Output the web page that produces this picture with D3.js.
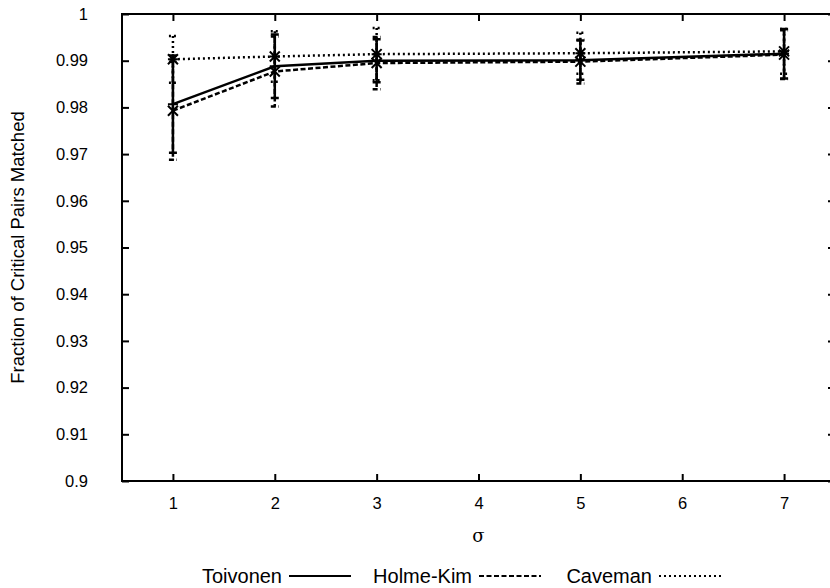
<!DOCTYPE html>
<html>
<head>
<meta charset="utf-8">
<script src="https://cdn.jsdelivr.net/npm/d3@7"></script>
<style>
  body { margin: 0; background: #fff; }
  svg { display: block; font-family: "Liberation Sans", Arial, sans-serif; }
</style>
</head>
<body>
<div id="chart"></div>
<script>
// chart values
const sigma = [1, 2, 3, 5, 7];
const xTicks = [1, 2, 3, 4, 5, 6, 7];
const yTicks = [0.9, 0.91, 0.92, 0.93, 0.94, 0.95, 0.96, 0.97, 0.98, 0.99, 1];
const seriesNames = ["Toivonen", "Holme-Kim", "Caveman"];
const toivonen = [0.9807, 0.9888, 0.9900, 0.9901, 0.9915];
const toivonenErr = [0.0104, 0.0068, 0.0046, 0.0042, 0.0053];
const holmeKim = [0.9793, 0.9877, 0.9895, 0.9898, 0.9913];
const holmeKimErr = [0.0105, 0.0075, 0.0056, 0.0047, 0.0052];
const caveman = [0.9903, 0.9909, 0.9914, 0.9916, 0.9920];
const cavemanErr = [0.0050, 0.0054, 0.0056, 0.0044, 0.0048];

const width = 830;
const height = 588;
const margin = { left: 122, right: -5, top: 14, bottom: 107 };
const tickLen = 7;

const svg = d3.select("#chart")
  .append("svg")
  .attr("width", width)
  .attr("height", height);

const x = d3.scaleLinear()
  .domain([0.5, 7.5])
  .range([margin.left, width - margin.right]);

const y = d3.scaleLinear()
  .domain([0.9, 1])
  .range([height - margin.bottom, margin.top]);

const fmt = v => String(+v.toFixed(2));

// axes, gnuplot style: ticks inward and mirrored
const axisStyle = g => {
  g.select(".domain").remove();
  g.selectAll(".tick line").attr("stroke", "#000").attr("stroke-width", 2);
  g.selectAll("text").attr("fill", "#000");
};

svg.append("g")
  .attr("transform", `translate(${margin.left},0)`)
  .call(d3.axisLeft(y).tickValues(yTicks).tickFormat(fmt)
    .tickSizeInner(-tickLen).tickSizeOuter(0).tickPadding(34))
  .attr("font-size", "16.5px")
  .attr("font-family", null)
  .call(axisStyle);

svg.append("g")
  .attr("transform", `translate(${width - margin.right},0)`)
  .call(d3.axisRight(y).tickValues(yTicks).tickFormat("")
    .tickSizeInner(-tickLen).tickSizeOuter(0))
  .call(axisStyle);

svg.append("g")
  .attr("transform", `translate(0,${height - margin.bottom})`)
  .call(d3.axisBottom(x).tickValues(xTicks).tickFormat(d3.format("d"))
    .tickSizeInner(-tickLen).tickSizeOuter(0).tickPadding(16))
  .attr("font-size", "16.5px")
  .attr("font-family", null)
  .call(axisStyle);

svg.append("g")
  .attr("transform", `translate(0,${margin.top})`)
  .call(d3.axisTop(x).tickValues(xTicks).tickFormat("")
    .tickSizeInner(-tickLen).tickSizeOuter(0))
  .call(axisStyle);

// border
svg.append("rect")
  .attr("x", x(0.5))
  .attr("y", y(1))
  .attr("width", x(7.5) - x(0.5))
  .attr("height", y(0.9) - y(1))
  .attr("fill", "none")
  .attr("stroke", "#000")
  .attr("stroke-width", 2);

// axis titles (y label centred on the plot, as gnuplot does)
svg.append("text")
  .attr("transform", `translate(24,${(y(1) + y(0.9)) / 2}) rotate(-90)`)
  .attr("text-anchor", "middle")
  .attr("font-size", "18.5px")
  .text("Fraction of Critical Pairs Matched");

svg.append("text")
  .attr("x", x(4))
  .attr("y", 542)
  .attr("text-anchor", "middle")
  .attr("font-size", "18px")
  .attr("font-family", "DejaVu Serif, serif")
  .text("σ");

// series
const series = [
  { name: seriesNames[0], values: toivonen, errors: toivonenErr, dash: null, marker: "plus" },
  { name: seriesNames[1], values: holmeKim, errors: holmeKimErr, dash: "5,2.5", marker: "cross" },
  { name: seriesNames[2], values: caveman, errors: cavemanErr, dash: "2,3", marker: "star" }
];

const markerPath = (type, cx, cy) => {
  const r = 5;
  const p = d3.path();
  if (type === "plus" || type === "star") {
    p.moveTo(cx - r, cy); p.lineTo(cx + r, cy);
    p.moveTo(cx, cy - r); p.lineTo(cx, cy + r);
  }
  if (type === "cross" || type === "star") {
    p.moveTo(cx - r, cy - r); p.lineTo(cx + r, cy + r);
    p.moveTo(cx - r, cy + r); p.lineTo(cx + r, cy - r);
  }
  return p.toString();
};

const line = d3.line()
  .x((d, i) => x(sigma[i]))
  .y(d => y(d));

const capW = 4;

series.forEach(s => {
  const g = svg.append("g")
    .attr("fill", "none")
    .attr("stroke", "#000")
    .attr("stroke-width", 2.5)
    .attr("stroke-dasharray", s.dash);

  g.append("path")
    .attr("d", line(s.values));

  // error bars with caps
  g.selectAll(".err")
    .data(s.values)
    .enter()
    .append("path")
    .attr("class", "err")
    .attr("d", (d, i) => {
      const cx = x(sigma[i]);
      const top = y(d + s.errors[i]);
      const bot = y(d - s.errors[i]);
      return `M${cx},${top}V${bot}M${cx - capW},${top}H${cx + capW}M${cx - capW},${bot}H${cx + capW}`;
    });

  // point markers, drawn solid
  svg.append("g")
    .attr("fill", "none")
    .attr("stroke", "#000")
    .attr("stroke-width", 2)
    .selectAll("path")
    .data(s.values)
    .enter()
    .append("path")
    .attr("d", (d, i) => markerPath(s.marker, x(sigma[i]), y(d)));
});

// legend below the plot
const legendTextEnd = [282, 472, 652];
const legendY = 576;
const sampleLen = 62;

series.forEach((s, i) => {
  svg.append("text")
    .attr("x", legendTextEnd[i])
    .attr("y", legendY)
    .attr("dy", "0.35em")
    .attr("text-anchor", "end")
    .attr("font-size", "20px")
    .text(s.name);

  svg.append("line")
    .attr("x1", legendTextEnd[i] + 7)
    .attr("x2", legendTextEnd[i] + 7 + sampleLen)
    .attr("y1", legendY)
    .attr("y2", legendY)
    .attr("stroke", "#000")
    .attr("stroke-width", 2)
    .attr("stroke-dasharray", s.dash);
});
</script>
</body>
</html>
